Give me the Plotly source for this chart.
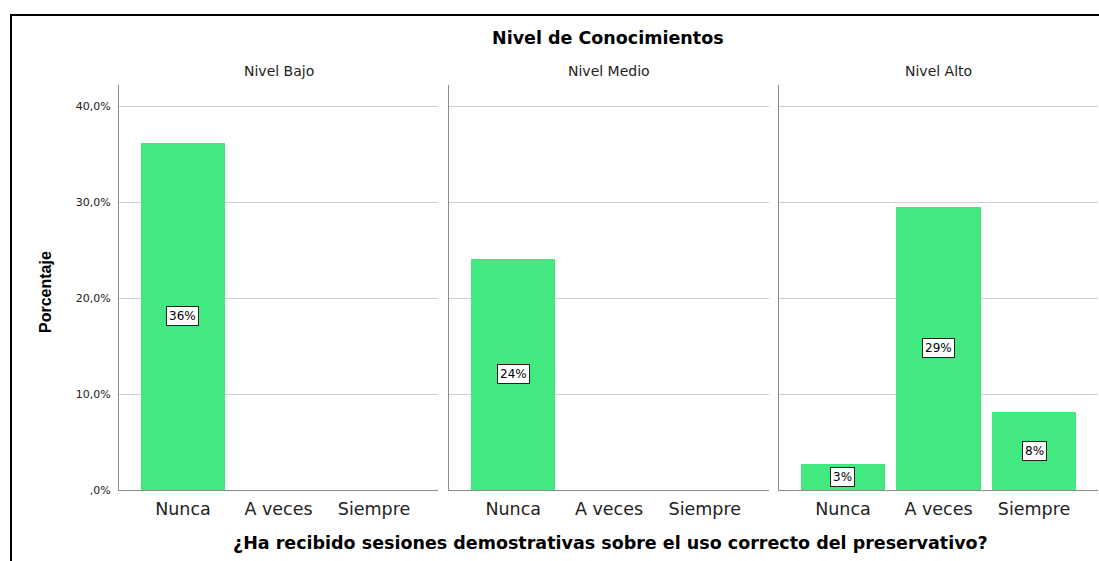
import plotly.graph_objects as go
from plotly.subplots import make_subplots

panels = ["Nivel Bajo", "Nivel Medio", "Nivel Alto"]
categories = ["Nunca", "A veces", "Siempre"]
values_bajo = [36.2, 0, 0]
values_medio = [24.1, 0, 0]
values_alto = [2.7, 29.5, 8.1]
labels_bajo = ["36%", None, None]
labels_medio = ["24%", None, None]
labels_alto = ["3%", "29%", "8%"]
tick_vals = [0, 10, 20, 30, 40]
tick_text = [",0%", "10,0%", "20,0%", "30,0%", "40,0%"]

series = [(values_bajo, labels_bajo), (values_medio, labels_medio), (values_alto, labels_alto)]

W, H = 1099, 561
ml, mr, mt, mb = 119, 1, 85, 71
pw = W - ml - mr
ph = H - mt - mb

def px_x(x):
    return (x - ml) / pw

def px_y(y):
    return (H - mb - y) / ph

fig = make_subplots(rows=1, cols=3, shared_yaxes=False, horizontal_spacing=0.0)

domains = [(px_x(119), px_x(438)), (px_x(449), px_x(769)), (px_x(779), px_x(1098))]
font_fam = "DejaVu Sans, Verdana, sans-serif"
bar_color = "#41E980"

for i, (vals, labs) in enumerate(series):
    col = i + 1
    xs = list(range(len(categories)))
    fig.add_trace(go.Bar(x=xs, y=vals, width=0.88, marker=dict(color=bar_color, line=dict(width=0)),
                         showlegend=False, hoverinfo="skip"), row=1, col=col)
    xaxis_name = "x" if col == 1 else f"x{col}"
    yaxis_name = "y" if col == 1 else f"y{col}"
    for xv, v, lab in zip(xs, vals, labs):
        if lab:
            fig.add_annotation(x=xv, y=v / 2, xref=xaxis_name, yref=yaxis_name, text=lab,
                               showarrow=False, bgcolor="white", bordercolor="#222222", borderwidth=1,
                               borderpad=2, font=dict(family=font_fam, size=12, color="black"))
    xk = "xaxis" if col == 1 else f"xaxis{col}"
    yk = "yaxis" if col == 1 else f"yaxis{col}"
    fig.layout[xk].update(domain=list(domains[i]), range=[-0.67, 2.67], tickvals=xs, ticktext=categories,
                          showline=True, linecolor="#8c8c8c", linewidth=1, showgrid=False, zeroline=False,
                          ticks="", ticklabelstandoff=3,
                          tickfont=dict(family=font_fam, size=17.5, color="#222222"), fixedrange=True)
    fig.layout[yk].update(range=[0, 42.2], tickvals=tick_vals, ticktext=tick_text, showline=True,
                          linecolor="#8c8c8c", linewidth=1, showgrid=True, gridcolor="#cfcfcf", gridwidth=1,
                          zeroline=False, ticks="", showticklabels=(col == 1), ticklabelstandoff=5,
                          tickfont=dict(family=font_fam, size=11, color="#222222"), fixedrange=True)
    cx = (domains[i][0] + domains[i][1]) / 2
    fig.add_annotation(x=cx, y=px_y(71), xref="paper", yref="paper", text=panels[i], showarrow=False,
                       font=dict(family=font_fam, size=14, color="#222222"), xanchor="center", yanchor="middle")

fig.add_annotation(x=px_x(608), y=px_y(38), xref="paper", yref="paper", text="<b>Nivel de Conocimientos</b>",
                   showarrow=False, font=dict(family=font_fam, size=17.5, color="black"), xanchor="center", yanchor="middle")
fig.add_annotation(x=px_x(610), y=px_y(543), xref="paper", yref="paper",
                   text="<b>¿Ha recibido sesiones demostrativas sobre el uso correcto del preservativo?</b>",
                   showarrow=False, font=dict(family=font_fam, size=17.5, color="black"), xanchor="center", yanchor="middle")
fig.add_annotation(x=px_x(45), y=px_y(292), xref="paper", yref="paper", text="<b>Porcentaje</b>", textangle=-90,
                   showarrow=False, font=dict(family="Liberation Sans Narrow, Liberation Sans, Arial, sans-serif", size=16, color="black"),
                   xanchor="center", yanchor="middle")

# outer frame
fig.add_shape(type="line", xref="paper", yref="paper", x0=px_x(10), x1=px_x(1100), y0=px_y(15), y1=px_y(15),
              line=dict(color="black", width=2))
fig.add_shape(type="line", xref="paper", yref="paper", x0=px_x(11), x1=px_x(11), y0=px_y(15), y1=px_y(562),
              line=dict(color="black", width=2))

fig.update_layout(width=W, height=H, margin=dict(l=ml, r=mr, t=mt, b=mb), plot_bgcolor="white",
                  paper_bgcolor="white", bargap=0, font=dict(family=font_fam))
fig.write_html("out.html", config={"displayModeBar": False},
               post_script="document.body.style.margin='0';document.body.style.padding='0';")
